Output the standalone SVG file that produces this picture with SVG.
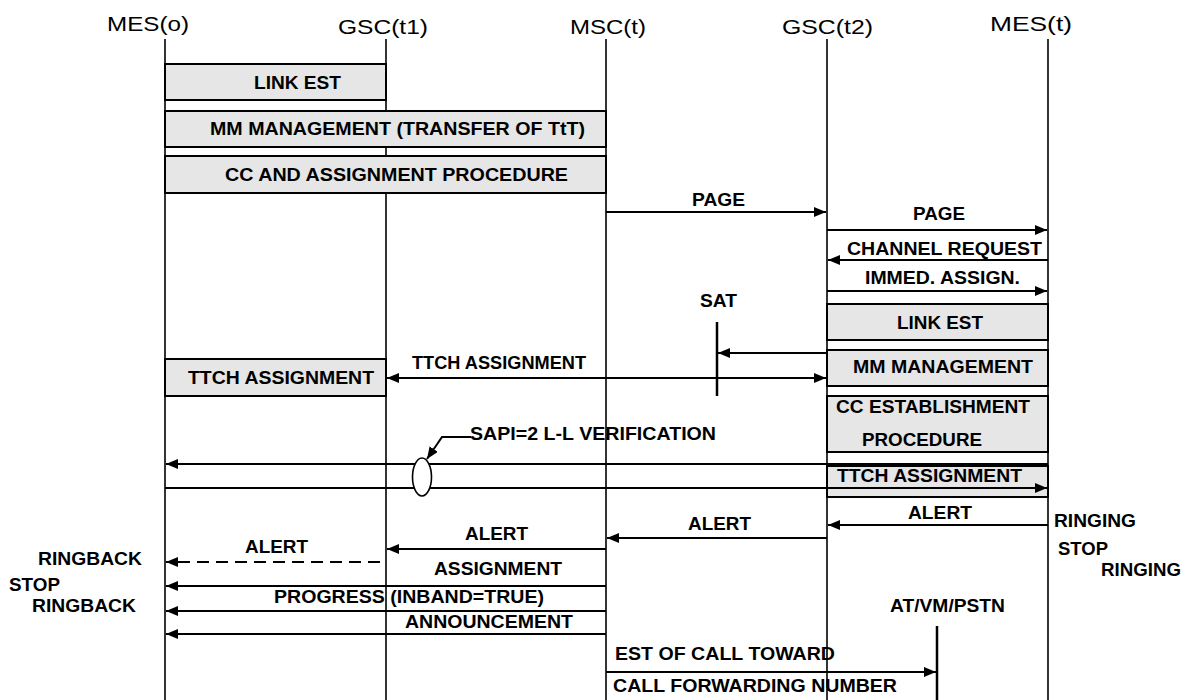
<svg xmlns="http://www.w3.org/2000/svg" width="1186" height="700" viewBox="0 0 1186 700">
  <defs>
    <marker id="ah" viewBox="0 0 12 10" refX="12" refY="5" markerWidth="12" markerHeight="10" orient="auto-start-reverse" markerUnits="userSpaceOnUse">
      <path d="M0,0 L12,5 L0,10 z" fill="#000"/>
    </marker>
    <style>
      .life { stroke: #000; stroke-width: 1.6; fill: none; }
      .hdr { font-family: "Liberation Sans", Arial, sans-serif; font-size: 21px; fill: #000; }
      .lbl { font-family: "Liberation Sans", Arial, sans-serif; font-size: 17.5px; font-weight: bold; fill: #000; }
      .box { fill: #e6e6e6; stroke: #000; stroke-width: 2; }
      .msg { stroke: #000; stroke-width: 2; fill: none; marker-end: url(#ah); }
      .dash { stroke-dasharray: 12 7; }
      .bar { stroke: #000; stroke-width: 2.5; }
    </style>
  </defs>
  <rect width="1186" height="700" fill="#fff"/>

  <!-- lifelines with their headers -->
  <g id="mes-o">
    <text class="hdr" x="107" y="31" textLength="82" lengthAdjust="spacingAndGlyphs">MES(o)</text>
    <line class="life" x1="165" y1="39" x2="165" y2="700"/>
  </g>
  <g id="gsc-t1">
    <text class="hdr" x="338" y="34" textLength="90" lengthAdjust="spacingAndGlyphs">GSC(t1)</text>
    <line class="life" x1="386" y1="39" x2="386" y2="700"/>
  </g>
  <g id="msc-t">
    <text class="hdr" x="570" y="34" textLength="76" lengthAdjust="spacingAndGlyphs">MSC(t)</text>
    <line class="life" x1="606" y1="39" x2="606" y2="700"/>
  </g>
  <g id="gsc-t2">
    <text class="hdr" x="782" y="34" textLength="91" lengthAdjust="spacingAndGlyphs">GSC(t2)</text>
    <line class="life" x1="827" y1="39" x2="827" y2="700"/>
  </g>
  <g id="mes-t">
    <text class="hdr" x="990" y="31" textLength="82" lengthAdjust="spacingAndGlyphs">MES(t)</text>
    <line class="life" x1="1048" y1="39" x2="1048" y2="700"/>
  </g>

  <!-- side entities -->
  <g id="sat">
    <text class="lbl" x="700" y="307" textLength="37" lengthAdjust="spacingAndGlyphs">SAT</text>
    <line class="bar" x1="717" y1="322" x2="717" y2="396"/>
  </g>
  <g id="at-vm-pstn">
    <text class="lbl" x="890" y="612" textLength="115" lengthAdjust="spacingAndGlyphs">AT/VM/PSTN</text>
    <line class="bar" x1="937" y1="626" x2="937" y2="700"/>
  </g>

  <!-- procedure boxes -->
  <g id="link-est-o">
    <rect class="box" x="165" y="64" width="221" height="36"/>
    <text class="lbl" x="254" y="89" textLength="87" lengthAdjust="spacingAndGlyphs">LINK EST</text>
  </g>
  <g id="mm-management-o">
    <rect class="box" x="165" y="111" width="441" height="36"/>
    <text class="lbl" x="210" y="135" textLength="375" lengthAdjust="spacingAndGlyphs">MM MANAGEMENT (TRANSFER OF TtT)</text>
  </g>
  <g id="cc-assignment-o">
    <rect class="box" x="165" y="156" width="441" height="37"/>
    <text class="lbl" x="225" y="181" textLength="343" lengthAdjust="spacingAndGlyphs">CC AND ASSIGNMENT PROCEDURE</text>
  </g>
  <g id="ttch-assignment-o">
    <rect class="box" x="165" y="359" width="221" height="37"/>
    <text class="lbl" x="188" y="384" textLength="186" lengthAdjust="spacingAndGlyphs">TTCH ASSIGNMENT</text>
  </g>
  <g id="link-est-t">
    <rect class="box" x="827" y="304" width="221" height="36"/>
    <text class="lbl" x="897" y="329" textLength="86" lengthAdjust="spacingAndGlyphs">LINK EST</text>
  </g>
  <g id="mm-management-t">
    <rect class="box" x="827" y="350" width="221" height="36"/>
    <text class="lbl" x="853" y="373" textLength="180" lengthAdjust="spacingAndGlyphs">MM MANAGEMENT</text>
  </g>
  <g id="cc-establishment-t">
    <rect class="box" x="827" y="396" width="221" height="56"/>
    <text class="lbl" x="836" y="413" textLength="194" lengthAdjust="spacingAndGlyphs">CC ESTABLISHMENT</text>
    <text class="lbl" x="862" y="446" textLength="120" lengthAdjust="spacingAndGlyphs">PROCEDURE</text>
  </g>
  <g id="ttch-assignment-t">
    <rect class="box" x="827" y="466" width="221" height="31"/>
    <text class="lbl" x="837" y="482" textLength="185" lengthAdjust="spacingAndGlyphs">TTCH ASSIGNMENT</text>
  </g>

  <!-- messages -->
  <g id="connectors">
    <line class="msg" x1="606" y1="212" x2="826" y2="212"/>
    <line class="msg" x1="827" y1="230" x2="1047" y2="230"/>
    <line class="msg" x1="1048" y1="260" x2="828" y2="260"/>
    <line class="msg" x1="827" y1="291" x2="1047" y2="291"/>
    <line class="msg" x1="827" y1="353" x2="718" y2="353"/>
    <line class="msg" x1="387" y1="378" x2="826" y2="378" style="marker-start:url(#ah)"/>
    <line class="msg" x1="1048" y1="464" x2="166" y2="464"/>
    <line class="msg" x1="165" y1="488" x2="1047" y2="488"/>
    <polyline class="msg" points="471,437 442,437 427,459"/>
    <ellipse cx="422" cy="477" rx="9.5" ry="19" fill="#fff" stroke="#000" stroke-width="1.6"/>
    <line class="msg" x1="1048" y1="525" x2="828" y2="525"/>
    <line class="msg" x1="827" y1="538" x2="607" y2="538"/>
    <line class="msg" x1="606" y1="549" x2="387" y2="549"/>
    <line class="msg dash" x1="380" y1="562" x2="166" y2="562"/>
    <line class="msg" x1="606" y1="586" x2="166" y2="586"/>
    <line class="msg" x1="606" y1="611" x2="166" y2="611"/>
    <line class="msg" x1="606" y1="634" x2="166" y2="634"/>
    <line class="msg" x1="606" y1="672" x2="936" y2="672"/>
  </g>

  <!-- message labels -->
  <g id="labels">
    <text class="lbl" x="692" y="206" textLength="53" lengthAdjust="spacingAndGlyphs">PAGE</text>
    <text class="lbl" x="913" y="220" textLength="52" lengthAdjust="spacingAndGlyphs">PAGE</text>
    <text class="lbl" x="847" y="255" textLength="195" lengthAdjust="spacingAndGlyphs">CHANNEL REQUEST</text>
    <text class="lbl" x="865" y="284" textLength="155" lengthAdjust="spacingAndGlyphs">IMMED. ASSIGN.</text>
    <text class="lbl" x="412" y="369" textLength="174" lengthAdjust="spacingAndGlyphs">TTCH ASSIGNMENT</text>
    <text class="lbl" x="470" y="440" textLength="246" lengthAdjust="spacingAndGlyphs">SAPI=2 L-L VERIFICATION</text>
    <text class="lbl" x="908" y="519" textLength="64" lengthAdjust="spacingAndGlyphs">ALERT</text>
    <text class="lbl" x="688" y="530" textLength="63" lengthAdjust="spacingAndGlyphs">ALERT</text>
    <text class="lbl" x="465" y="540" textLength="63" lengthAdjust="spacingAndGlyphs">ALERT</text>
    <text class="lbl" x="245" y="553" textLength="63" lengthAdjust="spacingAndGlyphs">ALERT</text>
    <text class="lbl" x="434" y="575" textLength="128" lengthAdjust="spacingAndGlyphs">ASSIGNMENT</text>
    <text class="lbl" x="274" y="603" textLength="270" lengthAdjust="spacingAndGlyphs">PROGRESS (INBAND=TRUE)</text>
    <text class="lbl" x="405" y="628" textLength="168" lengthAdjust="spacingAndGlyphs">ANNOUNCEMENT</text>
    <text class="lbl" x="615" y="660" textLength="220" lengthAdjust="spacingAndGlyphs">EST OF CALL TOWARD</text>
    <text class="lbl" x="613" y="692" textLength="284" lengthAdjust="spacingAndGlyphs">CALL FORWARDING NUMBER</text>
  </g>

  <!-- state notes beside the terminals -->
  <g id="notes">
    <text class="lbl" x="38" y="565" textLength="104" lengthAdjust="spacingAndGlyphs">RINGBACK</text>
    <text class="lbl" x="9" y="591" textLength="51" lengthAdjust="spacingAndGlyphs">STOP</text>
    <text class="lbl" x="32" y="612" textLength="104" lengthAdjust="spacingAndGlyphs">RINGBACK</text>
    <text class="lbl" x="1054" y="527" textLength="82" lengthAdjust="spacingAndGlyphs">RINGING</text>
    <text class="lbl" x="1058" y="555" textLength="50" lengthAdjust="spacingAndGlyphs">STOP</text>
    <text class="lbl" x="1101" y="576" textLength="80" lengthAdjust="spacingAndGlyphs">RINGING</text>
  </g>
</svg>
